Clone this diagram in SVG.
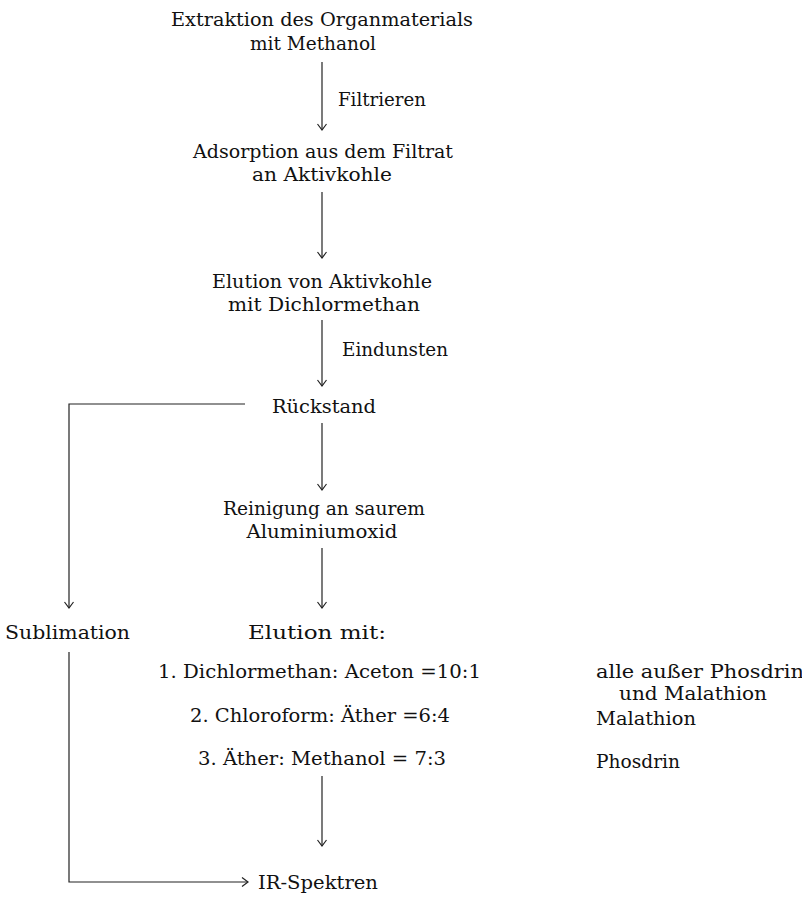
<svg xmlns="http://www.w3.org/2000/svg" width="802" height="897" viewBox="0 0 802 897">
<defs>
<style>
text{font-family:"DejaVu Serif","Liberation Serif",serif;font-size:18.5px;fill:#111}
.c{text-anchor:middle}
.ln{stroke:#222;stroke-width:1.2;fill:none}
</style>
<marker id="ah" markerWidth="12" markerHeight="12" refX="10" refY="6" orient="auto" markerUnits="userSpaceOnUse">
<polyline points="4,1.5 10,6 4,10.5" fill="none" stroke="#222" stroke-width="1.2"/>
</marker>
</defs>
<rect width="802" height="897" fill="#fff"/>
<g id="connectors">
<line class="ln" x1="322" y1="62" x2="322" y2="130" marker-end="url(#ah)"/>
<line class="ln" x1="322" y1="192" x2="322" y2="258" marker-end="url(#ah)"/>
<line class="ln" x1="322" y1="320" x2="322" y2="386" marker-end="url(#ah)"/>
<line class="ln" x1="322" y1="423" x2="322" y2="490" marker-end="url(#ah)"/>
<line class="ln" x1="322" y1="548" x2="322" y2="608" marker-end="url(#ah)"/>
<line class="ln" x1="322" y1="776" x2="322" y2="846" marker-end="url(#ah)"/>
<polyline class="ln" points="245,404 69,404 69,608" marker-end="url(#ah)"/>
<polyline class="ln" points="69,652 69,882 248,882" marker-end="url(#ah)"/>
<text x="338" y="106" textLength="88" lengthAdjust="spacingAndGlyphs">Filtrieren</text>
<text x="342" y="356" textLength="106" lengthAdjust="spacingAndGlyphs">Eindunsten</text>
</g>
<g id="n1"><text class="c" x="322" y="26" textLength="302" lengthAdjust="spacingAndGlyphs">Extraktion des Organmaterials</text><text class="c" x="313" y="50" textLength="126" lengthAdjust="spacingAndGlyphs">mit Methanol</text></g>
<g id="n2"><text class="c" x="323" y="158" textLength="260" lengthAdjust="spacingAndGlyphs">Adsorption aus dem Filtrat</text><text class="c" x="322" y="181" textLength="140" lengthAdjust="spacingAndGlyphs">an Aktivkohle</text></g>
<g id="n3"><text class="c" x="322" y="288" textLength="220" lengthAdjust="spacingAndGlyphs">Elution von Aktivkohle</text><text class="c" x="324" y="311" textLength="192" lengthAdjust="spacingAndGlyphs">mit Dichlormethan</text></g>
<g id="n4"><text class="c" x="324" y="413" textLength="104" lengthAdjust="spacingAndGlyphs">Rückstand</text></g>
<g id="n5"><text class="c" x="324" y="515" textLength="202" lengthAdjust="spacingAndGlyphs">Reinigung an saurem</text><text class="c" x="322" y="538" textLength="151" lengthAdjust="spacingAndGlyphs">Aluminiumoxid</text></g>
<g id="n6"><text x="5" y="639" textLength="125" lengthAdjust="spacingAndGlyphs">Sublimation</text></g>
<g id="n7"><text x="248" y="639" textLength="138" lengthAdjust="spacingAndGlyphs">Elution mit:</text>
<text x="158" y="678" textLength="323" lengthAdjust="spacingAndGlyphs">1. Dichlormethan: Aceton =10:1</text>
<text x="190" y="722" textLength="260" lengthAdjust="spacingAndGlyphs">2. Chloroform: Äther =6:4</text>
<text x="198" y="765" textLength="248" lengthAdjust="spacingAndGlyphs">3. Äther: Methanol = 7:3</text></g>
<g id="n8"><text x="596" y="678" textLength="208" lengthAdjust="spacingAndGlyphs">alle außer Phosdrin</text><text x="619" y="700" textLength="148" lengthAdjust="spacingAndGlyphs">und Malathion</text>
<text x="596" y="725" textLength="100" lengthAdjust="spacingAndGlyphs">Malathion</text><text x="596" y="768" textLength="84" lengthAdjust="spacingAndGlyphs">Phosdrin</text></g>
<g id="n9"><text x="258" y="889" textLength="120" lengthAdjust="spacingAndGlyphs">IR-Spektren</text></g>
</svg>
